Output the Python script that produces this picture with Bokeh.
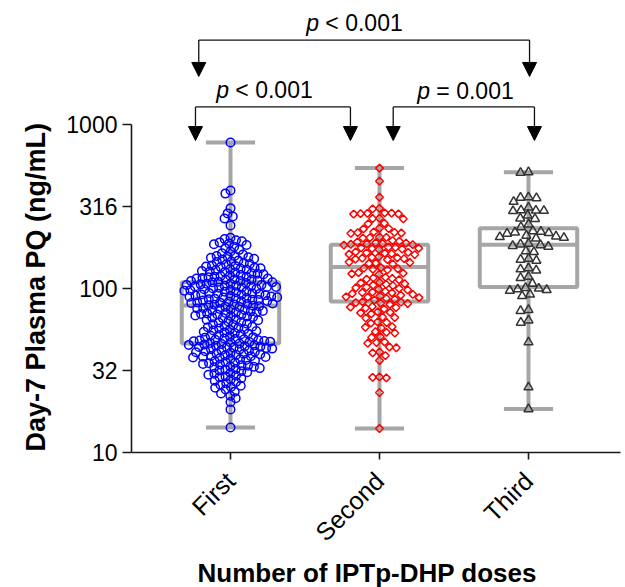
import math
import numpy as np
from bokeh.plotting import figure
from bokeh.models import (Range1d, FixedTicker, CustomJSTickFormatter, Arrow, NormalHead,
                          ColumnDataSource, Title)
from bokeh.embed import file_html
from bokeh.resources import INLINE
from bokeh.core.properties import value

# ---------------- data ----------------
categories = ["First", "Second", "Third"]

first_vals = [
    776, 396, 379, 309, 287, 275, 267, 242,
    204, 200, 197, 194, 191, 188, 186, 184,
    180, 176, 172, 168, 164, 161, 158, 155,
    158, 156, 154, 152, 150, 148, 146, 145, 143, 141, 140, 138, 137, 136, 135, 134,
    133, 132, 131, 130, 129, 128, 127, 126, 125, 124, 123, 122, 121, 120, 119, 118, 118, 117,
    116, 115, 115, 114, 113, 113, 112, 111, 111, 110, 109, 109, 108, 107, 107, 106, 105, 105,
    104, 104, 103, 103, 102, 102, 101, 101,
    100, 99.5, 99, 98, 97.5, 97, 96, 95.5, 95, 94, 93.5, 93, 92.5, 92, 91.5, 91, 90.5, 90,
    89.5, 89, 88.5, 88,
    87.5, 87, 86.5, 86, 85.5, 85, 84.5, 84, 83.5, 83, 82.5, 82, 81.5, 81, 80.5, 80, 79.5, 79,
    78.5, 78, 77.5, 77,
    76, 75.5, 75, 74.5, 74, 73.5, 73, 72.5, 72, 71.5, 71, 70.5, 70, 69.5, 69, 68.5, 68, 67.5,
    67, 66.5,
    66, 65, 64.5, 64, 63, 62.5, 62, 61, 60.5, 60, 59, 58.5, 58, 57.5,
    57, 56.5, 56, 55.5, 55, 54.5, 54, 53.5, 53, 52.5, 52, 51.5, 51, 50.5, 50, 49.5,
    49.2, 49, 48.7, 48.4, 48.2, 47.9, 47.6, 47.4, 47.1, 46.8, 46.5, 46.2, 45.9, 45.6, 45.3,
    45, 44.7, 44.4, 44.2, 44, 43.8, 43.6,
    43.3, 43, 42.7, 42.4, 42.1, 41.8, 41.5, 41.2, 40.9, 40.6, 40.3, 40, 39.7, 39.4, 39.1,
    38.8, 38.6, 38.4, 38.2, 38,
    37.6, 37.3, 37, 36.6, 36.3, 36, 35.6, 35.3, 35, 34.7, 34.4, 34.1, 33.8, 33.5, 33.3, 33.1,
    32.7, 32.3, 32, 31.6, 31.3, 30.9, 30.5, 30.2, 29.8, 29.5, 29.1, 28.8,
    28.4, 27.9, 27.4, 26.9, 26.4, 25.9, 25.5, 25.1,
    24.8, 24.2, 23.5, 22.9, 22.2,
    21.4, 20.3, 18.3, 14.2,
]

second_vals = [
    542, 451, 360,
    308, 306,
    289, 288, 287, 286, 285, 284,
    268, 267, 266,
    250, 248,
    233, 232, 231,
    221, 220, 219, 218, 217,
    206, 205, 204, 203,
    196, 194, 192, 190, 189, 188, 187, 186, 185, 184,
    179, 178, 177, 176, 175, 174, 173,
    167, 166, 165, 164, 163, 162, 161,
    156, 155, 154, 153, 152, 151, 150,
    145, 144, 143, 142, 141,
    134, 133, 132, 131, 130,
    125, 124, 123, 122,
    117, 116, 115, 114, 113,
    109, 108, 107, 106, 105, 104,
    102, 101, 100, 99, 98,
    96, 95, 94.5, 94, 93, 92, 91, 90,
    89, 88.5, 88, 87, 86, 85,
    83, 82.5, 82, 81.5, 81, 80,
    77.5, 77, 76.5, 76, 75,
    72, 71.5, 71, 70,
    67, 66.5, 66,
    62.5, 62, 61.5,
    58.5, 58, 57.5,
    54.5, 54, 53.5,
    50.8, 50.3,
    47.2, 46.8, 46.4,
    44, 43.5,
    41, 40.5, 39,
    36.4,
    28.9, 28.7, 28.5,
    23.2,
    14.0,
]

third_vals = [
    512, 508,
    360, 358, 356,
    338,
    312, 300, 299, 298, 297,
    279, 268, 266,
    246, 237,
    224, 222, 220, 218, 216,
    210, 208, 206, 204, 202,
    188, 186, 184, 182, 180,
    169, 167,
    152, 150, 148,
    133, 131, 129,
    118, 116,
    107,
    101, 100, 99, 98, 97,
    92, 90,
    74, 73,
    64, 62,
    47,
    25,
    18.4,
]

box_q1 = [46.2, 83.4, 102.0]
box_median = [78.8, 135.0, 185.0]
box_q3 = [109.0, 185.0, 233.0]

y_ticks = [10, 31.6227766, 100, 316.227766, 1000]
y_tick_labels = ["10", "32", "100", "316", "1000"]

# significance brackets
cmp_left = [0.787, 0.765, 2.092]
cmp_right = [3.007, 1.805, 3.040]
cmp_text_x = [1.832, 1.228, 2.577]
cmp_bracket_y = [3273, 1279, 1279]
cmp_tip_y = [1963, 798, 798]
cmp_text_y = [4130, 1634, 1611]
cmp_text = ["< 0.001", "< 0.001", "= 0.001"]

x_title = "Number of IPTp-DHP doses"
y_title = "Day-7 Plasma PQ (ng/mL)"

# ---------------- layout ----------------
W, H = 625, 587
BL, BR, BT, BB = 131, 5, 0, 135
X0 = 0.3356
Y0, Y1 = 10, 10 ** 3.756
px_per_x = 149.0
X1 = X0 + (W - BL - BR) / px_per_x
px_per_dec = (H - BT - BB) / (math.log10(Y1) - math.log10(Y0))


def swarm(vals, d):
    ys = np.log10(np.asarray(vals, dtype=float)) * px_per_dec
    order = np.argsort(-ys, kind="stable")
    placed = []
    xs = np.zeros(len(ys))
    for i in order:
        y = ys[i]
        near = [(px, py) for px, py in placed if abs(py - y) < d]
        cands = [0.0]
        for px, py in near:
            dx = math.sqrt(max(d * d - (py - y) ** 2, 0.0))
            cands += [px + dx, px - dx]
        cands.sort(key=lambda c: (abs(c), c))
        for c in cands:
            if all((c - px) ** 2 + (y - py) ** 2 >= d * d - 1e-6 for px, py in near):
                xs[i] = c
                break
        placed.append((xs[i], y))
    return xs / px_per_x


p = figure(width=W, height=H, y_axis_type="log",
           x_range=Range1d(X0, X1), y_range=Range1d(Y0, Y1),
           output_backend="svg", toolbar_location=None,
           min_border_left=BL, min_border_right=BR,
           min_border_top=BT, min_border_bottom=BB)
p.grid.visible = False
p.outline_line_color = None
p.background_fill_color = "white"

gray = "#a6a6a6"
groups = [first_vals, second_vals, third_vals]
centers = np.arange(1, len(categories) + 1, dtype=float)
mins = [min(g) for g in groups]
maxs = [max(g) for g in groups]

# whiskers (full range), caps, boxes, medians
p.segment(x0=centers, y0=mins, x1=centers, y1=maxs, line_color=gray, line_width=4)
p.segment(x0=centers - 0.165, y0=mins, x1=centers + 0.165, y1=mins, line_color=gray, line_width=4)
p.segment(x0=centers - 0.165, y0=maxs, x1=centers + 0.165, y1=maxs, line_color=gray, line_width=4)
p.quad(left=centers - 0.327, right=centers + 0.327, bottom=box_q1, top=box_q3,
       fill_color=None, line_color=gray, line_width=4)
p.segment(x0=centers - 0.327, y0=box_median, x1=centers + 0.327, y1=box_median,
          line_color=gray, line_width=4)

# points
x1 = centers[0] + swarm(first_vals, 6.0)
p.scatter(x=x1, y=first_vals, marker="circle", size=8.5, fill_color=None,
          line_color="#0000ff", line_width=1.5)
x2 = centers[1] + swarm(second_vals, 6.9)
p.scatter(x=x2, y=second_vals, marker="square", angle=math.pi / 4, size=5.5, fill_color=None,
          line_color="#ff0000", line_width=1.5)
x3 = centers[2] + swarm(third_vals, 8.0)
p.scatter(x=x3, y=third_vals, marker="triangle", size=9, fill_color=None,
          line_color="#333333", line_width=1.5)

# brackets
p.segment(x0=cmp_left, y0=cmp_bracket_y, x1=cmp_right, y1=cmp_bracket_y,
          line_color="#111111", line_width=1.3)
arrow_src = ColumnDataSource(dict(
    x=cmp_left + cmp_right,
    ys=cmp_bracket_y + cmp_bracket_y,
    ye=cmp_tip_y + cmp_tip_y,
))
p.add_layout(Arrow(x_start="x", y_start="ys", x_end="x", y_end="ye", source=arrow_src,
                   line_color="#111111", line_width=1.3,
                   end=NormalHead(size=14, fill_color="#000000", line_color="#000000", line_width=1)))

fs = 23
p.text(x=cmp_text_x, y=cmp_text_y, text=["p"] * len(cmp_text_x),
       text_font=value("Liberation Sans"), text_font_style="italic",
       text_font_size=f"{fs}px", text_align="left", text_baseline="middle",
       x_offset=-48.3, text_color="#000000")
p.text(x=cmp_text_x, y=cmp_text_y, text=cmp_text,
       text_font=value("Liberation Sans"), text_font_size=f"{fs}px",
       text_align="left", text_baseline="middle", x_offset=-29.1, text_color="#000000")

# axes
p.yaxis.ticker = FixedTicker(ticks=y_ticks)
p.yaxis.formatter = CustomJSTickFormatter(args=dict(yt=y_ticks, lbls=y_tick_labels), code="""
let best = 0, bd = Infinity;
for (let i = 0; i < yt.length; i++) {
  const d = Math.abs(Math.log10(tick) - Math.log10(yt[i]));
  if (d < bd) { bd = d; best = i; }
}
return lbls[best];
""")
p.yaxis.bounds = (10, 1000)
p.xaxis.ticker = FixedTicker(ticks=list(centers))
p.xaxis.formatter = CustomJSTickFormatter(args=dict(cats=categories), code="""
const i = Math.round(tick) - 1;
return (i >= 0 && i < cats.length) ? cats[i] : "";
""")
p.xaxis.major_label_orientation = math.pi / 4

for ax in (p.xaxis, p.yaxis):
    ax.axis_line_width = 1.6
    ax.axis_line_color = "#1a1a1a"
    ax.major_tick_line_width = 1.6
    ax.major_tick_line_color = "#1a1a1a"
    ax.minor_tick_line_color = None
    ax.major_tick_in = 0
    ax.major_label_text_font = "Liberation Sans"
    ax.major_label_text_color = "#000000"

p.yaxis.major_label_text_font_size = "23px"
p.yaxis.major_tick_out = 9
p.yaxis.major_label_standoff = 5
p.xaxis.major_label_text_font_size = "25px"
p.xaxis.major_tick_out = 7
p.xaxis.major_label_standoff = 17

# axis titles
p.add_layout(Title(text=y_title, align="left", offset=1, standoff=25,
                   text_font="Liberation Sans", text_font_style="bold", text_font_size="27px",
                   text_color="#000000"), "left")
p.add_layout(Title(text=x_title, align="left", offset=66, standoff=-8,
                   text_font="Liberation Sans", text_font_style="bold", text_font_size="26px",
                   text_color="#000000"), "below")

open("out.html", "w").write(file_html(p, INLINE))
